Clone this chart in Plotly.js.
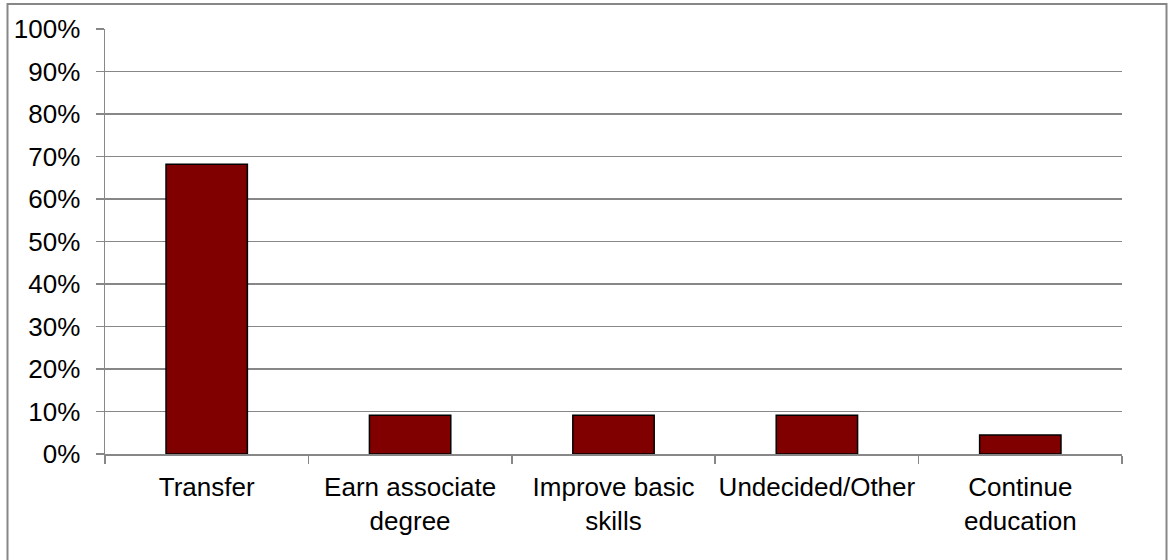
<!DOCTYPE html>
<html>
<head>
<meta charset="utf-8">
<script src="https://cdn.plot.ly/plotly-3.0.1.min.js"></script>
<style>
  html, body { margin: 0; padding: 0; background: #ffffff; }
  #chart { width: 1172px; height: 560px; }
</style>
</head>
<body>
<div id="chart"></div>
<script>
const categories = ["Transfer", "Earn associate<br>degree", "Improve basic<br>skills", "Undecided/Other", "Continue<br>education"];
const shares = [0.682, 0.091, 0.091, 0.091, 0.045];
const yTickValues = [0, 0.1, 0.2, 0.3, 0.4, 0.5, 0.6, 0.7, 0.8, 0.9, 1.0];

const W = 1172, H = 560;
const mL = 105, mR = 50, mT = 29, mB = 106;
const pw = W - mL - mR, ph = H - mT - mB;
function px2x(px) { return (px - mL) / pw; }
function py2y(py) { return (H - mB - py) / ph; }

const trace = {
  type: "bar",
  x: categories,
  y: shares,
  marker: { color: "#800000", line: { color: "#000000", width: 1.5 } },
  hoverinfo: "skip"
};

const layout = {
  width: W,
  height: H,
  margin: { l: mL, r: mR, t: mT, b: mB, pad: 0 },
  paper_bgcolor: "#ffffff",
  plot_bgcolor: "#ffffff",
  showlegend: false,
  bargap: 0.6,
  font: { family: "Liberation Sans, Arial, sans-serif", size: 26, color: "#000000" },
  xaxis: {
    type: "category",
    showgrid: false,
    showline: true,
    linecolor: "#878787",
    linewidth: 1.5,
    ticks: "outside",
    tickson: "boundaries",
    ticklen: 8,
    tickcolor: "#878787",
    tickwidth: 1.5,
    tickangle: 0,
    tickfont: { size: 26, color: "#000000" },
    ticklabelstandoff: 9,
    zeroline: false,
    fixedrange: true
  },
  yaxis: {
    range: [0, 1],
    tickvals: yTickValues,
    tickformat: ".0%",
    showgrid: true,
    gridcolor: "#878787",
    gridwidth: 1.5,
    showline: true,
    linecolor: "#878787",
    linewidth: 1.5,
    ticks: "outside",
    ticklen: 8,
    tickcolor: "#878787",
    tickwidth: 1.5,
    tickfont: { size: 26, color: "#000000" },
    ticklabelstandoff: 10,
    zeroline: false,
    fixedrange: true
  },
  shapes: [{
    type: "rect",
    xref: "paper", yref: "paper",
    x0: px2x(7.5), x1: px2x(1166.5),
    y0: py2y(565), y1: py2y(4),
    line: { color: "#878787", width: 2 },
    fillcolor: "rgba(0,0,0,0)",
    layer: "below"
  }]
};

Plotly.newPlot("chart", [trace], layout, { displayModeBar: false, staticPlot: true });
</script>
</body>
</html>
